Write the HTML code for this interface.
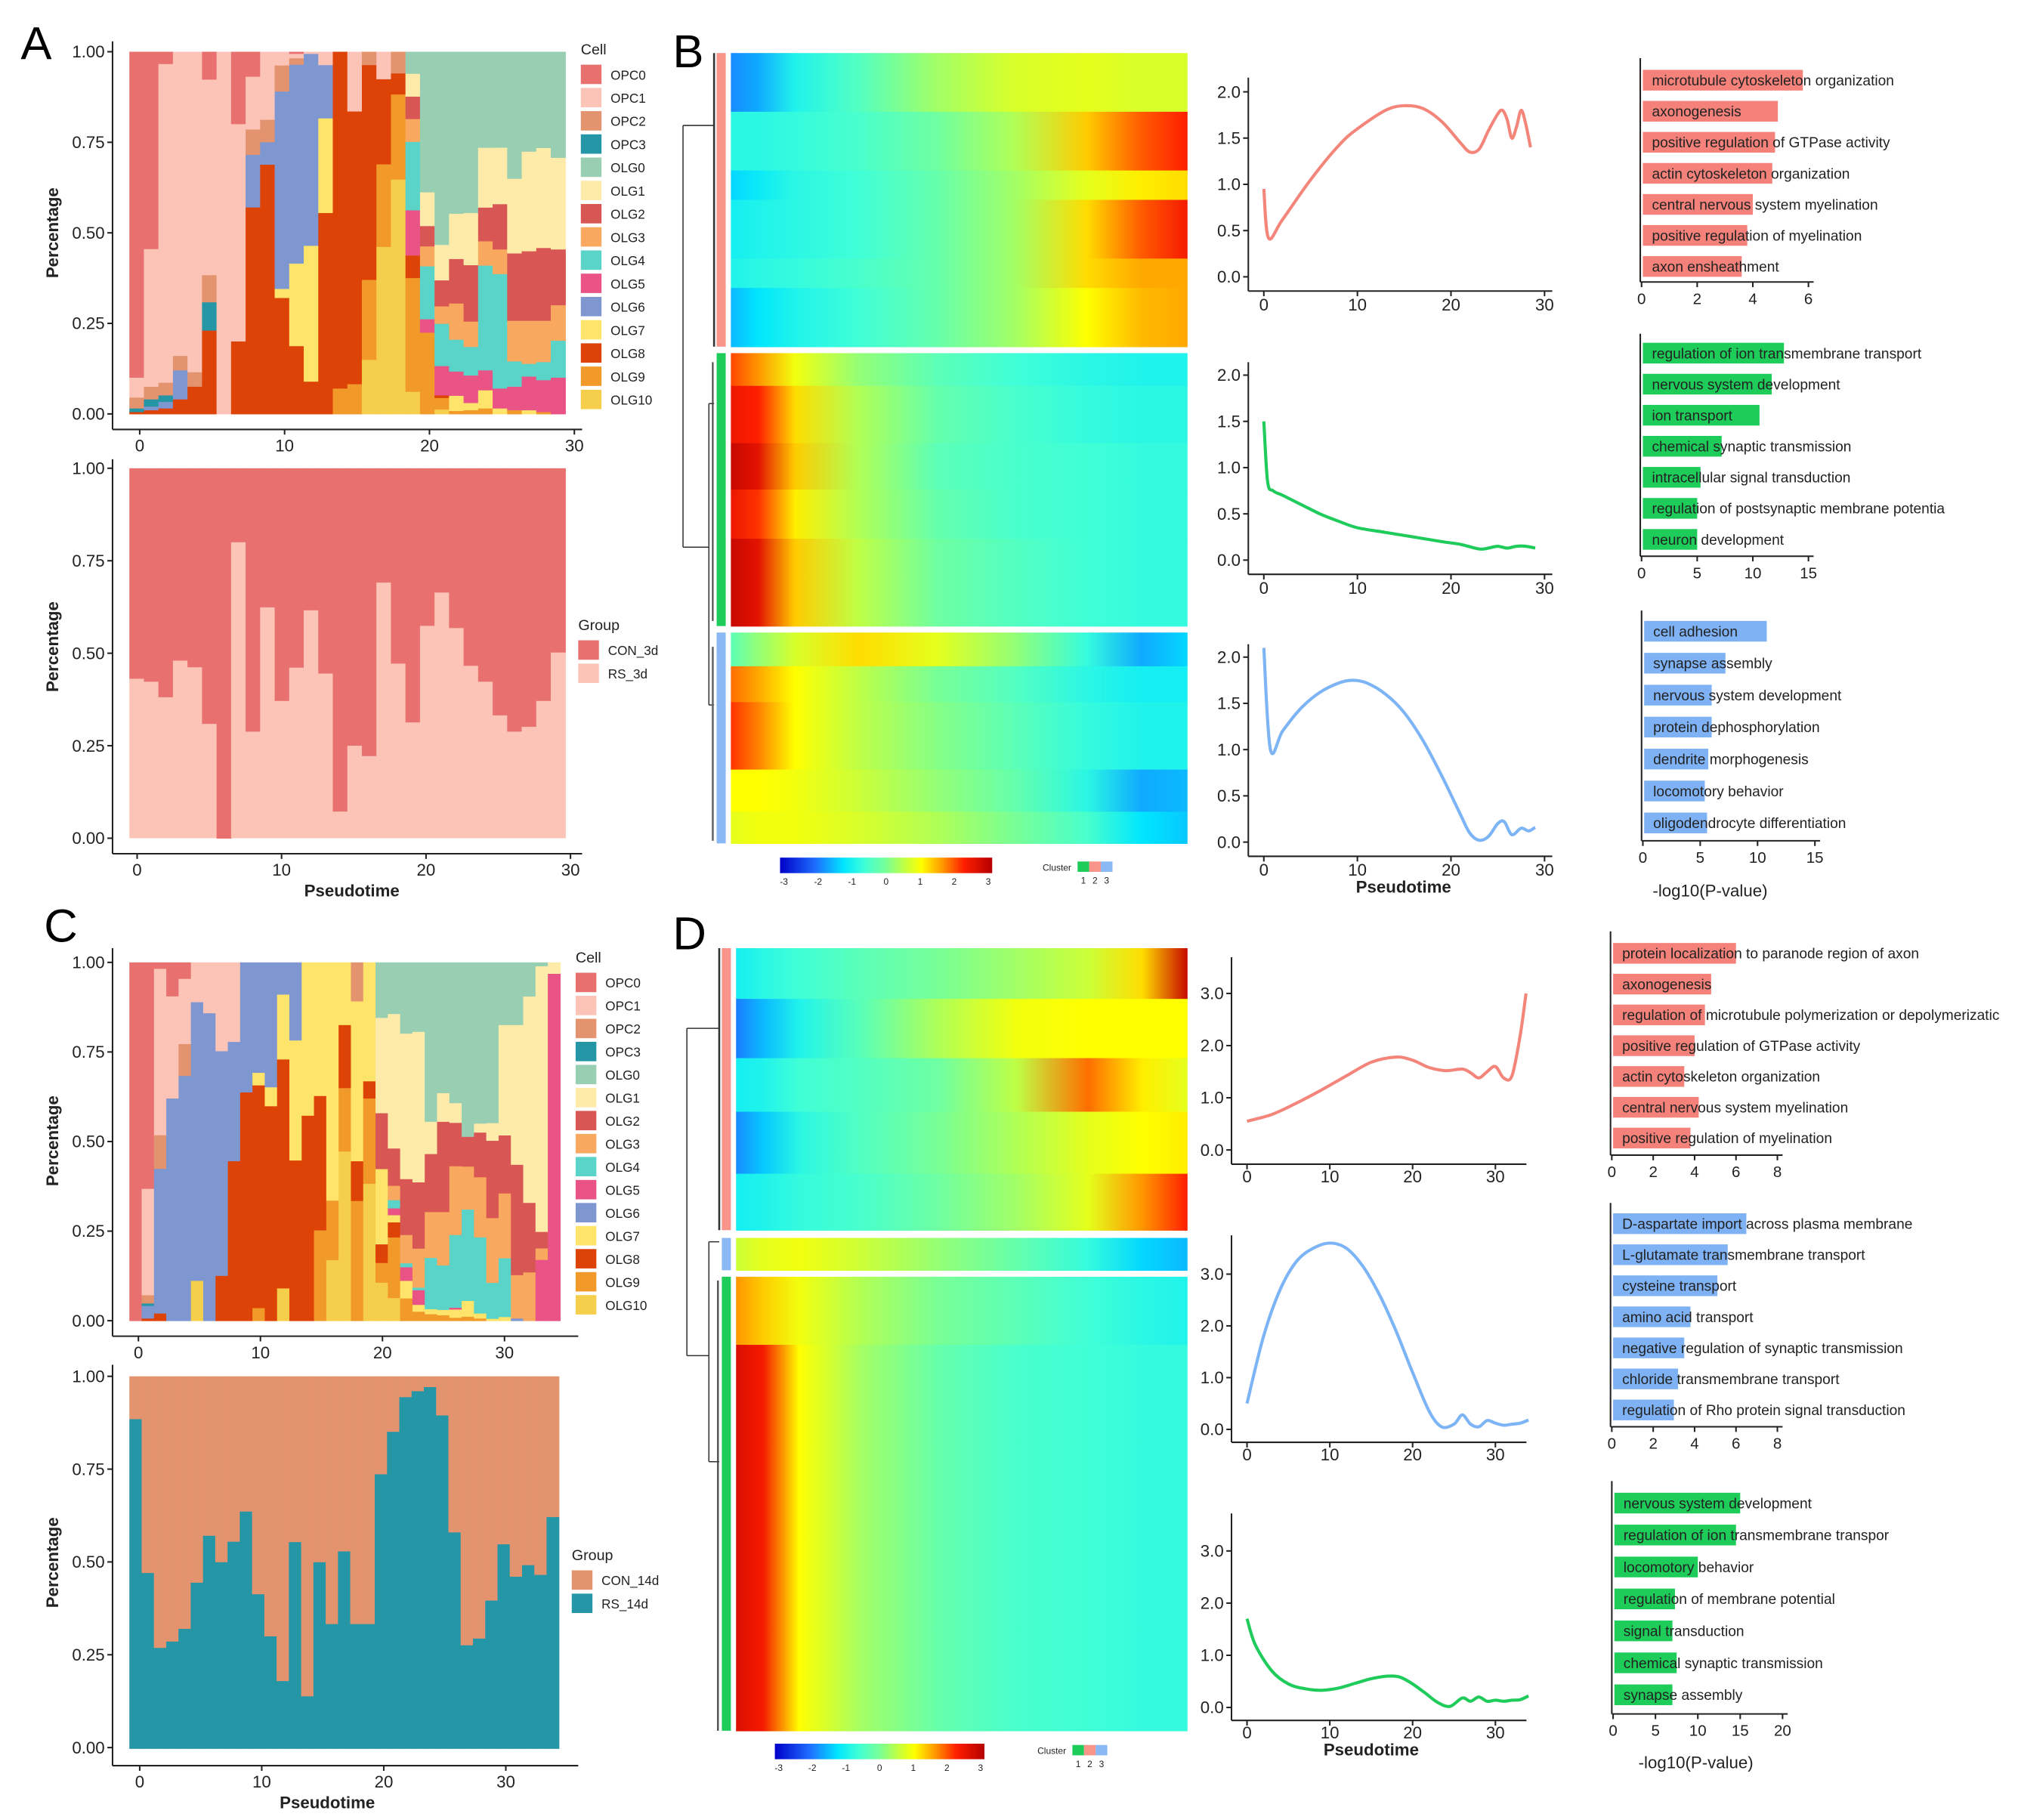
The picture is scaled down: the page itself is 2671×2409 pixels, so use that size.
<!DOCTYPE html>
<html><head><meta charset="utf-8"><title>Pseudotime figure</title>
<style>
html,body{margin:0;padding:0;background:#fff;}
svg{display:block;font-family:"Liberation Sans",Arial,sans-serif;}
</style></head>
<body>
<svg id="fig" xmlns="http://www.w3.org/2000/svg" width="2671" height="2409" viewBox="0 0 1560 1407" preserveAspectRatio="none">
<defs id="defs"></defs>
<rect x="0" y="0" width="1560" height="1407" fill="#fff"/>
<text x="16" y="46" font-size="36">A</text>
<text x="520" y="52" font-size="36">B</text>
<text x="34" y="728" font-size="36">C</text>
<text x="520" y="734" font-size="36">D</text>
</svg>
<script>
// ---------- DATA ----------
const cellNames=["OPC0","OPC1","OPC2","OPC3","OLG0","OLG1","OLG2","OLG3","OLG4","OLG5","OLG6","OLG7","OLG8","OLG9","OLG10"];
const cellColors=["#E8716F","#FBC4B7","#E4936F","#2596A6","#98CFB3","#FEEBAA","#D85755","#F9A85F","#5AD3C8","#E95385","#7F97D1","#FEE46A","#DD4207","#F19A2A","#F5CF4B"];
// per-bar composition (order = cellNames)
const A_cellRows=[
[.9,.055,.03,.01,0,0,0,0,0,0,0,0,.005,0,0],
[.545,.38,.035,.02,0,0,0,0,0,0,.01,0,.01,0,0],
[.034,.88,.035,.018,0,0,0,0,0,0,.018,0,.015,0,0],
[0,.84,.04,0,0,0,0,0,0,0,.08,0,.04,0,0],
[0,.885,.04,0,0,0,0,0,0,0,0,0,.075,0,0],
[.077,.54,.075,.078,0,0,0,0,0,0,0,0,.23,0,0],
[0,1,0,0,0,0,0,0,0,0,0,0,0,0,0],
[.2,.6,0,0,0,0,0,0,0,0,0,0,.2,0,0],
[.069,.146,.07,0,0,0,0,0,0,0,.145,0,.57,0,0],
[0,.188,.062,0,0,0,0,0,0,0,.062,0,.688,0,0],
[0,.038,.072,0,0,0,0,0,0,0,.545,.025,.32,0,0],
[.006,.012,.018,0,0,0,0,0,0,0,.549,.228,.187,0,0],
[0,.006,0,0,0,0,0,0,0,0,.53,.375,.089,0,0],
[0,.037,0,0,0,0,0,0,0,0,.147,.261,.554,0,0],
[0,0,0,0,0,0,0,0,0,0,0,0,.93,.07,0],
[0,.165,0,0,0,0,0,0,0,0,0,0,.753,.082,0],
[0,0,.037,0,0,0,0,0,0,0,0,0,.593,.221,.149],
[0,.076,0,0,0,0,0,0,0,0,0,0,.235,.228,.461],
[0,0,.06,0,0,0,0,0,0,0,0,0,.058,.235,.647],
[0,0,0,0,.061,.063,.062,.063,.189,.125,0,0,.062,.314,.061],
[0,0,0,0,.388,.093,.056,.055,.146,.037,0,0,0,.224,0],
[0,0,0,0,.534,.098,.072,.048,.117,.081,0,0,.007,.032,.012],
[0,0,0,0,.448,.125,.123,.1,.088,.067,0,.042,0,.008,0],
[0,0,0,0,.446,.144,.156,.07,.079,.076,0,.02,0,.01,0],
[0,0,0,0,.265,.165,.093,.067,.289,.055,0,.05,0,.015,0],
[0,0,0,0,.265,.156,.125,.068,.316,.055,0,.015,0,0,0],
[0,0,0,0,.351,.206,.186,.112,.07,.065,0,0,0,.01,0],
[0,0,0,0,.276,.275,.192,.119,.035,.093,0,.01,0,0,0],
[0,0,0,0,.266,.276,.201,.114,.05,.088,0,0,0,.005,0],
[0,0,0,0,.293,.253,.154,.098,.102,.1,0,0,0,0,0]];
const C_cellRows=[
[1,0,0,0,0,0,0,0,0,0,0,0,0,0,0],
[.632,.297,.023,.007,0,0,0,0,0,0,.035,0,.006,0,0],
[.018,.465,.094,0,0,0,0,0,0,0,.404,0,.02,0,0],
[.095,.285,0,0,0,0,0,0,0,0,.62,0,0,0,0],
[.046,.182,.089,0,0,0,0,0,0,0,.683,0,0,0,0],
[0,.111,0,0,0,0,0,0,0,0,.777,0,0,0,.111],
[0,.142,0,0,0,0,0,0,0,0,.858,0,0,0,0],
[0,.248,0,0,0,0,0,0,0,0,.627,0,.125,0,0],
[0,.222,0,0,0,0,0,0,0,0,.333,0,.445,0,0],
[0,0,0,0,0,0,0,0,0,0,.363,0,.637,0,0],
[0,0,0,0,0,0,0,0,0,0,.308,.035,.621,.035,0],
[0,0,0,0,0,0,0,0,0,0,.349,.053,.599,0,0],
[0,0,0,0,0,0,0,0,0,0,.09,.181,.639,0,.09],
[0,0,0,0,0,0,0,0,0,0,.218,.335,.447,0,0],
[0,0,0,0,0,0,0,0,0,0,0,.428,.572,0,0],
[0,0,0,0,0,0,0,0,0,0,0,.373,.375,.252,0],
[0,0,0,0,0,0,0,0,0,0,0,.665,0,.166,.169],
[0,0,0,0,0,0,0,0,0,0,0,.175,.176,.177,.472],
[0,0,.109,0,0,0,0,0,0,0,0,.446,.111,.334,0],
[0,0,0,0,0,0,0,0,0,0,0,.332,.048,.238,.382],
[0,0,0,0,.155,.266,.156,0,0,0,0,.21,.052,.055,.106],
[0,0,0,0,.144,.375,.104,.04,.023,.019,0,.02,.042,.169,.063],
[0,0,0,0,.199,.406,.156,.079,.011,.038,0,.049,0,.062,0],
[0,0,0,0,.194,.42,.185,.109,.007,.041,0,.019,0,.025,0],
[0,0,0,0,.445,.09,.162,.128,.143,0,0,.014,0,.018,0],
[0,0,0,0,.365,.08,.252,.149,.124,0,0,.015,0,.015,0],
[0,0,0,0,.393,.055,.121,.192,.203,.005,0,.023,0,.008,0],
[0,0,0,0,.487,0,.083,.12,.255,0,0,.044,0,.011,0],
[0,0,0,0,.451,.025,.125,.168,.213,0,0,.014,0,.006,0],
[0,0,0,0,.447,.049,.215,.18,.1,0,0,.005,0,0,0],
[0,0,0,0,.175,.308,.162,.181,.164,0,0,.01,0,0,0],
[0,0,0,0,.175,.39,.308,.121,0,0,.006,0,0,0,0],
[0,0,0,0,.095,.573,.193,.134,0,0,0,0,0,0,0],
[0,0,0,0,.011,.739,.046,.032,0,.169,0,0,0,0,0],
[0,0,0,0,0,.032,0,0,0,.968,0,0,0,0,0]];
const A_rsFrac=[.431,.423,.381,.48,.462,.309,0,.80,.288,.624,.371,.461,.616,.445,.072,.25,.222,.691,.472,.313,.574,.664,.568,.466,.423,.332,.288,.301,.371,.502];
const C_rsFrac=[.885,.472,.271,.288,.322,.446,.572,.501,.556,.637,.415,.302,.182,.555,.141,.501,.335,.53,.335,.335,.737,.851,.944,.96,.971,.895,.581,.278,.296,.398,.549,.462,.493,.467,.622];
const pctTicks=[0,0.25,0.5,0.75,1];
const pctTickLabels=["0.00","0.25","0.50","0.75","1.00"];
const ptTicksA=[0,10,20,30];

// trend curves
const B1_t=[0,0.5,2,5,8,10,13,15,17,19,21,22,23,24,25,25.5,26,26.5,27,27.5,28,28.5];
const B1_v=[0.95,0.42,0.62,1.05,1.42,1.6,1.8,1.85,1.82,1.68,1.45,1.35,1.38,1.58,1.76,1.8,1.7,1.5,1.62,1.8,1.65,1.4];
const B2_t=[0,0.4,1,2,4,6,8,10,13,16,19,21,23,24,25,26,27,28,29];
const B2_v=[1.5,0.85,0.75,0.7,0.6,0.5,0.42,0.35,0.3,0.25,0.2,0.17,0.12,0.13,0.15,0.13,0.15,0.15,0.13];
const B3_t=[0,0.7,2,4,6,8,9.5,11,13,15,17,19,21,22,23,24,25,25.7,26.5,27.5,28.3,29];
const B3_v=[2.1,1.0,1.2,1.45,1.62,1.72,1.75,1.72,1.6,1.4,1.1,0.72,0.3,0.1,0.02,0.06,0.2,0.22,0.08,0.15,0.12,0.16];
const D1_t=[0,3,6,9,12,15,18,20,22,24,26,27,28,29,30,31,32,33,33.7];
const D1_v=[0.55,0.68,0.9,1.15,1.42,1.68,1.78,1.72,1.58,1.52,1.55,1.48,1.38,1.5,1.6,1.38,1.42,2.2,3.0];
const D2_t=[0,2,4,6,8,10,12,14,16,18,20,22,23.5,25,26,27,28,29,30,31,32,33,34];
const D2_v=[0.5,1.8,2.7,3.25,3.5,3.6,3.5,3.15,2.6,1.9,1.1,0.35,0.05,0.1,0.28,0.1,0.05,0.17,0.12,0.08,0.1,0.12,0.18];
const D3_t=[0,1,3,5,7,9,11,13,15,17,18.5,20,21.5,23,24.5,26,27,28,29,30,31,32,33,34];
const D3_v=[1.7,1.2,0.7,0.45,0.36,0.33,0.37,0.46,0.55,0.6,0.58,0.45,0.28,0.1,0.02,0.18,0.12,0.2,0.12,0.14,0.12,0.14,0.15,0.22];

// GO enrichment
const GO_B1_terms=["microtubule cytoskeleton organization","axonogenesis","positive regulation of GTPase activity","actin cytoskeleton organization","central nervous system myelination","positive regulation of myelination","axon ensheathment"];
const GO_B1_vals=[5.8,4.9,4.8,4.7,4.0,3.8,3.6];
const GO_B2_terms=["regulation of ion transmembrane transport","nervous system development","ion transport","chemical synaptic transmission","intracellular signal transduction","regulation of postsynaptic membrane potentia","neuron development"];
const GO_B2_vals=[12.8,11.7,10.6,7.2,5.3,5.0,5.0];
const GO_B3_terms=["cell adhesion","synapse assembly","nervous system development","protein dephosphorylation","dendrite morphogenesis","locomotory behavior","oligodendrocyte differentiation"];
const GO_B3_vals=[10.8,7.2,6.0,6.0,5.7,5.4,5.6];
const GO_D1_terms=["protein localization to paranode region of axon","axonogenesis","regulation of microtubule polymerization or depolymerizatic","positive regulation of GTPase activity","actin cytoskeleton organization","central nervous system myelination","positive regulation of myelination"];
const GO_D1_vals=[6.0,4.8,4.5,4.0,3.5,4.2,3.8];
const GO_D2_terms=["D-aspartate import across plasma membrane","L-glutamate transmembrane transport","cysteine transport","amino acid transport","negative regulation of synaptic transmission","chloride transmembrane transport","regulation of Rho protein signal transduction"];
const GO_D2_vals=[6.5,5.6,5.1,3.8,3.5,3.2,3.0];
const GO_D3_terms=["nervous system development","regulation of ion transmembrane transpor","locomotory behavior","regulation of membrane potential","signal transduction","chemical synaptic transmission","synapse assembly"];
const GO_D3_vals=[15,14.5,10,7.3,7.0,7.5,7.0];

// heatmap band profiles: [startFrac, endFrac, values across pseudotime]
const HB1=[[0,.2,[-1.8,-1.6,-0.9,-0.4,0.3,0.7,0.8,0.7,0.7]],[.2,.4,[-0.8,-0.8,-0.7,-0.5,-0.1,0.4,1.3,1.9,2.2]],[.4,.5,[-1.3,-1.1,-0.8,-0.6,-0.2,0.3,0.8,1.1,1.2]],[.5,.7,[-1,-0.9,-0.8,-0.6,-0.2,0.3,1.2,1.9,2.3]],[.7,.8,[-0.9,-0.8,-0.7,-0.5,-0.2,0.3,1.2,1.5,1.5]],[.8,1,[-1.5,-1.2,-0.9,-0.6,-0.2,0.3,1.0,1.4,1.5]]];
const HB2=[[0,.12,[2,1.6,0.9,0.2,-0.3,-0.6,-0.8,-0.9,-0.9]],[.12,.33,[2.4,2.2,1.2,0.4,-0.2,-0.5,-0.7,-0.8,-0.8]],[.33,.5,[2.8,2.5,1.3,0.4,-0.3,-0.5,-0.6,-0.7,-0.7]],[.5,.68,[2.4,2.1,1.1,0.4,-0.2,-0.5,-0.6,-0.7,-0.7]],[.68,1,[2.8,2.5,1.3,0.5,-0.1,-0.4,-0.6,-0.7,-0.7]]];
const HB3=[[0,.16,[-0.3,0.2,0.7,1.2,0.8,0.2,-0.7,-1.6,-1.3]],[.16,.33,[1.8,1.5,1.0,0.5,0,-0.4,-0.8,-1.0,-1.0]],[.33,.65,[2.1,1.7,1.0,0.5,0.1,-0.3,-0.7,-0.9,-0.9]],[.65,.85,[1,1,0.9,0.6,0.2,-0.2,-0.8,-1.6,-1.5]],[.85,1,[0.8,0.9,0.9,0.7,0.4,0,-0.5,-1.2,-1.4]]];
const HD1=[[0,.18,[-1,-0.8,-0.6,-0.3,0,0.3,0.6,1.2,2.8]],[.18,.39,[-1.9,-1.5,-0.9,-0.3,0.4,0.9,1,1,1]],[.39,.58,[-1,-0.9,-0.6,-0.4,-0.1,0.5,1.8,1.1,0.8]],[.58,.8,[-1.8,-1.4,-0.8,-0.4,0,0.4,0.8,1,1.1]],[.8,1,[-1,-0.9,-0.7,-0.5,-0.1,0.3,0.8,1.6,2.2]]];
const HD2=[[0,1,[0.6,0.8,0.9,0.6,0.2,-0.2,-0.7,-1.3,-1.5]]];
const HD3=[[0,.15,[1.6,1.3,0.9,0.4,0,-0.3,-0.6,-0.8,-0.9]],[.15,1,[2.6,2.3,1.0,0.3,-0.2,-0.5,-0.6,-0.7,-0.7]]];
const colorbarTicks=[-3,-2,-1,0,1,2,3];

// ---------- DRAWING ----------
const NS="http://www.w3.org/2000/svg";
const svg=document.getElementById('fig');
const defs=document.getElementById('defs');
function mk(tag,attrs,parent){const e=document.createElementNS(NS,tag);for(const k in attrs)e.setAttribute(k,attrs[k]);(parent||svg).appendChild(e);return e;}
function txt(x,y,s,size,anchor,extra){const e=mk('text',Object.assign({x:x,y:y,'font-size':size,'text-anchor':anchor||'start',fill:'#222'},extra||{}));e.textContent=s;return e;}
function lin(d0,d1,r0,r1){return v=>r0+(v-d0)*(r1-r0)/(d1-d0);}

const cmapStops=[[-3,[0,0,200]],[-2,[30,110,255]],[-1.2,[0,230,255]],[-0.6,[64,255,215]],[0,[120,255,150]],[0.5,[190,255,70]],[1,[255,255,0]],[1.6,[255,150,0]],[2.2,[255,30,0]],[3,[180,0,0]]];
function cmap(v){v=Math.max(-3,Math.min(3,v));for(let i=0;i<cmapStops.length-1;i++){const a=cmapStops[i],b=cmapStops[i+1];if(v<=b[0]){const t=(v-a[0])/(b[0]-a[0]);const c=a[1].map((x,j)=>Math.round(x+(b[1][j]-x)*t));return 'rgb('+c.join(',')+')';}}return 'rgb(180,0,0)';}

function axisY(x,yTop,yBot,ticks,labels,scale,name,size){
  const g=mk('g',{});
  
  
  const l=mk('line',{x1:x,y1:yTop,x2:x,y2:yBot,stroke:'#222','stroke-width':1.2},g);
  
  
  ticks.forEach((v,i)=>{const y=scale(v);
    const t=mk('line',{x1:x-4,y1:y,x2:x,y2:y,stroke:'#222','stroke-width':1.2},g);
    
    
    const lb=txt(x-6,y+4.5,labels[i],size||13,'end');g.appendChild(lb);
    
    });
}
function axisX(y,x0,x1,ticks,labels,scale,name,size,dy){
  const g=mk('g',{});
  
  
  const l=mk('line',{x1:x0,y1:y,x2:x1,y2:y,stroke:'#222','stroke-width':1.2},g);
  
  
  ticks.forEach((v,i)=>{const x=scale(v);
    const t=mk('line',{x1:x,y1:y,x2:x,y2:y+4,stroke:'#222','stroke-width':1.2},g);
    
    
    const lb=txt(x,y+(dy||17),labels[i],size||13,'middle');g.appendChild(lb);
    
    });
}

function stacked(rows,x0,x1,yTop,yBot,name){
  const g=mk('g',{});
  
  
  const n=rows.length,w=(x1-x0)/n,H=yBot-yTop;
  rows.forEach((r,i)=>{const tot=r.reduce((a,b)=>a+b,0);let y=yTop;
    r.forEach((v,k)=>{if(v<=0)return;const h=v/tot*H;
      const rc=mk('rect',{x:x0+i*w,y:y,width:w+0.4,height:h+0.3,fill:cellColors[k]},g);
      
      
      y+=h;});});
}
function groupBars(frac,x0,x1,yTop,yBot,colTop,colBot,name,nTop,nBot){
  const g=mk('g',{});
  
  
  const n=frac.length,w=(x1-x0)/n,H=yBot-yTop;
  frac.forEach((f,i)=>{const yb=yBot-f*H;
    const a=mk('rect',{x:x0+i*w,y:yTop,width:w+0.4,height:yb-yTop+0.3,fill:colTop},g);
    
    
    const b=mk('rect',{x:x0+i*w,y:yb,width:w+0.4,height:yBot-yb,fill:colBot},g);
    
    });
}
function legend(x,y,title,names,colors,step,name){
  const g=mk('g',{});
  
  
  const t=txt(x,y,title,11.5);g.appendChild(t);
  
  
  names.forEach((nm,i)=>{const yy=y+8+i*step;
    const k=mk('rect',{x:x,y:yy,width:16,height:15,fill:colors[i]},g);
    
    
    const l=txt(x+23,yy+11.5,nm,10);g.appendChild(l);
    
    });
}
function ytitle(x,y,s,name){const t=txt(x,y,s,13,'middle',{'font-weight':'bold',transform:'rotate(-90 '+x+' '+y+')'});
  
  }
function xtitle(x,y,s,name,bold){const t=txt(x,y,s,13,'middle',bold===false?{}:{'font-weight':'bold'});
  
  }

// Panel A
stacked(A_cellRows,100,437,40,320,'panel-a-cell-bars');
axisY(87,32,332,pctTicks,pctTickLabels,lin(0,1,320,40),'panel-a-top-y-axis');
axisX(332,87,450,ptTicksA,ptTicksA.map(String),lin(0,30,108,444),'panel-a-top-x-axis');
ytitle(45,180,'Percentage','panel-a-top-y-title');
legend(449,42,'Cell',cellNames,cellColors,17.95,'panel-a-cell-legend');
groupBars(A_rsFrac,100,437,362,648,'#E8716F','#FBC4B7','panel-a-group-bars','con-3d','rs-3d');
axisY(87,355,660,pctTicks,pctTickLabels,lin(0,1,648,362),'panel-a-bottom-y-axis');
axisX(660,87,450,ptTicksA,ptTicksA.map(String),lin(0,30,106,441),'panel-a-bottom-x-axis');
ytitle(45,500,'Percentage','panel-a-bottom-y-title');
xtitle(272,693,'Pseudotime','panel-a-x-title');
legend(447,487,'Group',['CON_3d','RS_3d'],['#E8716F','#FBC4B7'],18,'panel-a-group-legend');

// Panel C
stacked(C_cellRows,100,433,744,1021,'panel-c-cell-bars');
axisY(87,733,1033,pctTicks,pctTickLabels,lin(0,1,1021,744),'panel-c-top-y-axis');
axisX(1033,87,447,ptTicksA,ptTicksA.map(String),lin(0,30,107,390),'panel-c-top-x-axis');
ytitle(45,882,'Percentage','panel-c-top-y-title');
legend(445,744,'Cell',cellNames,cellColors,17.8,'panel-c-cell-legend');
groupBars(C_rsFrac,100,432,1064,1352,'#E4936F','#2596A6','panel-c-group-bars','con-14d','rs-14d');
axisY(87,1055,1365,pctTicks,pctTickLabels,lin(0,1,1351,1064),'panel-c-bottom-y-axis');
axisX(1365,87,447,ptTicksA,ptTicksA.map(String),lin(0,30,108,391),'panel-c-bottom-x-axis');
ytitle(45,1208,'Percentage','panel-c-bottom-y-title');
xtitle(253,1398,'Pseudotime','panel-c-x-title');
legend(442,1206,'Group',['CON_14d','RS_14d'],['#E4936F','#2596A6'],18,'panel-c-group-legend');

// Heatmaps
const hmPos=[0,.06,.14,.28,.45,.62,.78,.9,1];
let gid=0;
function heat(bands,x0,x1,y0,y1,name){
  const g=mk('g',{});
  
  
  bands.forEach((b,i)=>{const id='hg'+(gid++);
    const lg=mk('linearGradient',{id:id,x1:0,y1:0,x2:1,y2:0},defs);
    b[2].forEach((v,j)=>mk('stop',{offset:hmPos[j],'stop-color':cmap(v)},lg));
    const ya=y0+b[0]*(y1-y0),yb=y0+b[1]*(y1-y0);
    const r=mk('rect',{x:x0,y:ya,width:x1-x0,height:yb-ya+0.4,fill:'url(#'+id+')'},g);
    
    });
}
function annot(x,y0,y1,col,name){const r=mk('rect',{x:x,y:y0,width:7,height:y1-y0,fill:col});
  
  }
heat(HB1,565,918,41,268,'heatmap-b-cluster-1');
heat(HB2,565,918,273,484,'heatmap-b-cluster-2');
heat(HB3,565,918,489,652,'heatmap-b-cluster-3');
annot(554,41,268,'#F8948A','annot-b-cluster-1');annot(554,273,484,'#1ECC5A','annot-b-cluster-2');annot(554,489,652,'#8AB8F5','annot-b-cluster-3');
heat(HD1,569,918,733,951,'heatmap-d-cluster-1');
heat(HD2,569,918,957,982,'heatmap-d-cluster-2');
heat(HD3,569,918,987,1338,'heatmap-d-cluster-3');
annot(558,733,951,'#F8948A','annot-d-cluster-1');annot(558,957,982,'#8AB8F5','annot-d-cluster-2');annot(558,987,1338,'#1ECC5A','annot-d-cluster-3');

function dendro(segs,name){const g=mk('g',{});
  
  
  segs.forEach(s=>mk('line',{x1:s[0],y1:s[1],x2:s[2],y2:s[3],stroke:s[4]||'#333','stroke-width':s[5]||0.9},g));}
dendro([[528,97,528,423],[528,97,552,97],[528,423,548,423],[548,312,548,545],[548,312,552,312],[548,545,552,545],[552,41,552,268,'#333',1.5],[551,280,551,480,'#444',1.2],[551,500,551,650,'#666',1.5]],'dendrogram-b');
dendro([[531,795,531,1048],[531,795,556,795],[531,1048,548,1048],[548,960,548,1130],[548,960,556,960],[548,1130,556,1130],[556,733,556,951,'#333',1.5],[555,990,555,1338,'#444',1.3]],'dendrogram-d');

function colorbar(x0,x1,y,name){const id='cb'+name;
  const lg=mk('linearGradient',{id:id,x1:0,y1:0,x2:1,y2:0},defs);
  cmapStops.forEach(s=>mk('stop',{offset:(s[0]+3)/6,'stop-color':'rgb('+s[1].join(',')+')'},lg));
  const r=mk('rect',{x:x0,y:y,width:x1-x0,height:12,fill:'url(#'+id+')'});
  
  
  const sc=lin(-3,3,x0+3,x1-3);
  colorbarTicks.forEach(v=>{const t=txt(sc(v),y+21,String(v),7,'middle');
    
    });}
colorbar(603,767,663,'colorbar-b');colorbar(599,761,1348,'colorbar-d');
function clusterLegend(x,y,cols,name){const t=txt(x,y+7,'Cluster',7);
  
  
  cols.forEach((c,i)=>{const r=mk('rect',{x:x+27+i*9,y:y,width:9,height:8,fill:c});
    
    
    const l=txt(x+31.5+i*9,y+17,String(i+1),7,'middle');
    
    });}
clusterLegend(806,666,['#1ECC5A','#F8948A','#8AB8F5'],'cluster-legend-b');
clusterLegend(802,1349,['#1ECC5A','#F8948A','#8AB8F5'],'cluster-legend-d');

// Line plots
function smoothPath(pts){let d='M'+pts[0][0]+','+pts[0][1];
  for(let i=0;i<pts.length-1;i++){const p0=pts[i-1]||pts[i],p1=pts[i],p2=pts[i+1],p3=pts[i+2]||p2;
    const c1=[p1[0]+(p2[0]-p0[0])/6,p1[1]+(p2[1]-p0[1])/6],c2=[p2[0]-(p3[0]-p1[0])/6,p2[1]-(p3[1]-p1[1])/6];
    d+=' C'+c1[0].toFixed(1)+','+c1[1].toFixed(1)+' '+c2[0].toFixed(1)+','+c2[1].toFixed(1)+' '+p2[0].toFixed(1)+','+p2[1].toFixed(1);}
  return d;}
function linePlot(ts,vs,xs,ys,col,name){const pts=ts.map((t,i)=>[xs(t),ys(vs[i])]);
  const p=mk('path',{d:smoothPath(pts),fill:'none',stroke:col,'stroke-width':2.4});
  
  }
const trendTicksB=[0,0.5,1,1.5,2];
const trendTicksD=[0,1,2,3];
const ptTicksB=[0,10,20,30];
const bX=lin(0,30,977,1194);
[[214,71,60,225,240,B1_t,B1_v,'#F4857A','b-1'],[433,290,280,444,459,B2_t,B2_v,'#1FCB5A','b-2'],[651,508,498,662,677,B3_t,B3_v,'#7CB4F5','b-3']].forEach(c=>{
  const ys=lin(0,2,c[0],c[1]);
  axisY(965,c[2],c[3],trendTicksB,trendTicksB.map(v=>v.toFixed(1)),ys,'trend-'+c[8]+'-y-axis');
  axisX(c[3],965,1200,ptTicksB,ptTicksB.map(String),bX,'trend-'+c[8]+'-x-axis',13,c[4]-c[3]);
  linePlot(c[5],c[6],bX,ys,c[7],'trend-line-'+c[8]);});
xtitle(1085,690,'Pseudotime','panel-b-x-title');
const dX=lin(0,30,964,1156);
[[889,768,740,900,914,D1_t,D1_v,'#F4857A','d-1'],[1105,985,955,1115,1129,D2_t,D2_v,'#7CB4F5','d-2'],[1320,1199,1170,1330,1344,D3_t,D3_v,'#1FCB5A','d-3']].forEach(c=>{
  const ys=lin(0,3,c[0],c[1]);
  axisY(952,c[2],c[3],trendTicksD,trendTicksD.map(v=>v.toFixed(1)),ys,'trend-'+c[8]+'-y-axis');
  axisX(c[3],952,1180,ptTicksB,ptTicksB.map(String),dX,'trend-'+c[8]+'-x-axis',13,c[4]-c[3]);
  linePlot(c[5],c[6],dX,ys,c[7],'trend-line-'+c[8]);});
xtitle(1060,1357,'Pseudotime','panel-d-x-title');

// GO bars
function goBars(terms,vals,x0,maxV,xMax,yTop,yBot,y0c,step,col,ticks,name){
  const xs=lin(0,maxV,x0,xMax);
  const g=mk('g',{});
  
  
  vals.forEach((v,i)=>{const yc=y0c+i*step;
    const r=mk('rect',{x:x0+1,y:yc-8,width:xs(v)-x0-1,height:16,fill:col},g);
    
    
    const t=txt(x0+8,yc+4,terms[i],11.2);g.appendChild(t);
    
    });
  axisY(x0-1,yTop,yBot,[],[],xs,name+'-y-axis');
  axisX(yBot,x0-1,xs(ticks[ticks.length-1])+4,ticks,ticks.map(String),xs,name+'-x-axis',12,17);
}
goBars(GO_B1_terms,GO_B1_vals,1269,6,1398,45,218,62,24,'#F4827A',[0,2,4,6],'go-b-1');
goBars(GO_B2_terms,GO_B2_vals,1269,15,1398,258,430,273,24,'#1ECC5A',[0,5,10,15],'go-b-2');
goBars(GO_B3_terms,GO_B3_vals,1270,15,1403,472,650,488,24.7,'#7FB2F5',[0,5,10,15],'go-b-3');
xtitle(1322,693,'-log10(P-value)','panel-b-go-x-title',false);
goBars(GO_D1_terms,GO_D1_vals,1246,8,1374,720,893,737,23.8,'#F4827A',[0,2,4,6,8],'go-d-1');
goBars(GO_D2_terms,GO_D2_vals,1246,8,1374,930,1103,946,24,'#7FB2F5',[0,2,4,6,8],'go-d-2');
goBars(GO_D3_terms,GO_D3_vals,1247,20,1378,1145,1325,1162,24.7,'#1ECC5A',[0,5,10,15,20],'go-d-3');
xtitle(1311,1367,'-log10(P-value)','panel-d-go-x-title',false);
</script>
</body></html>
